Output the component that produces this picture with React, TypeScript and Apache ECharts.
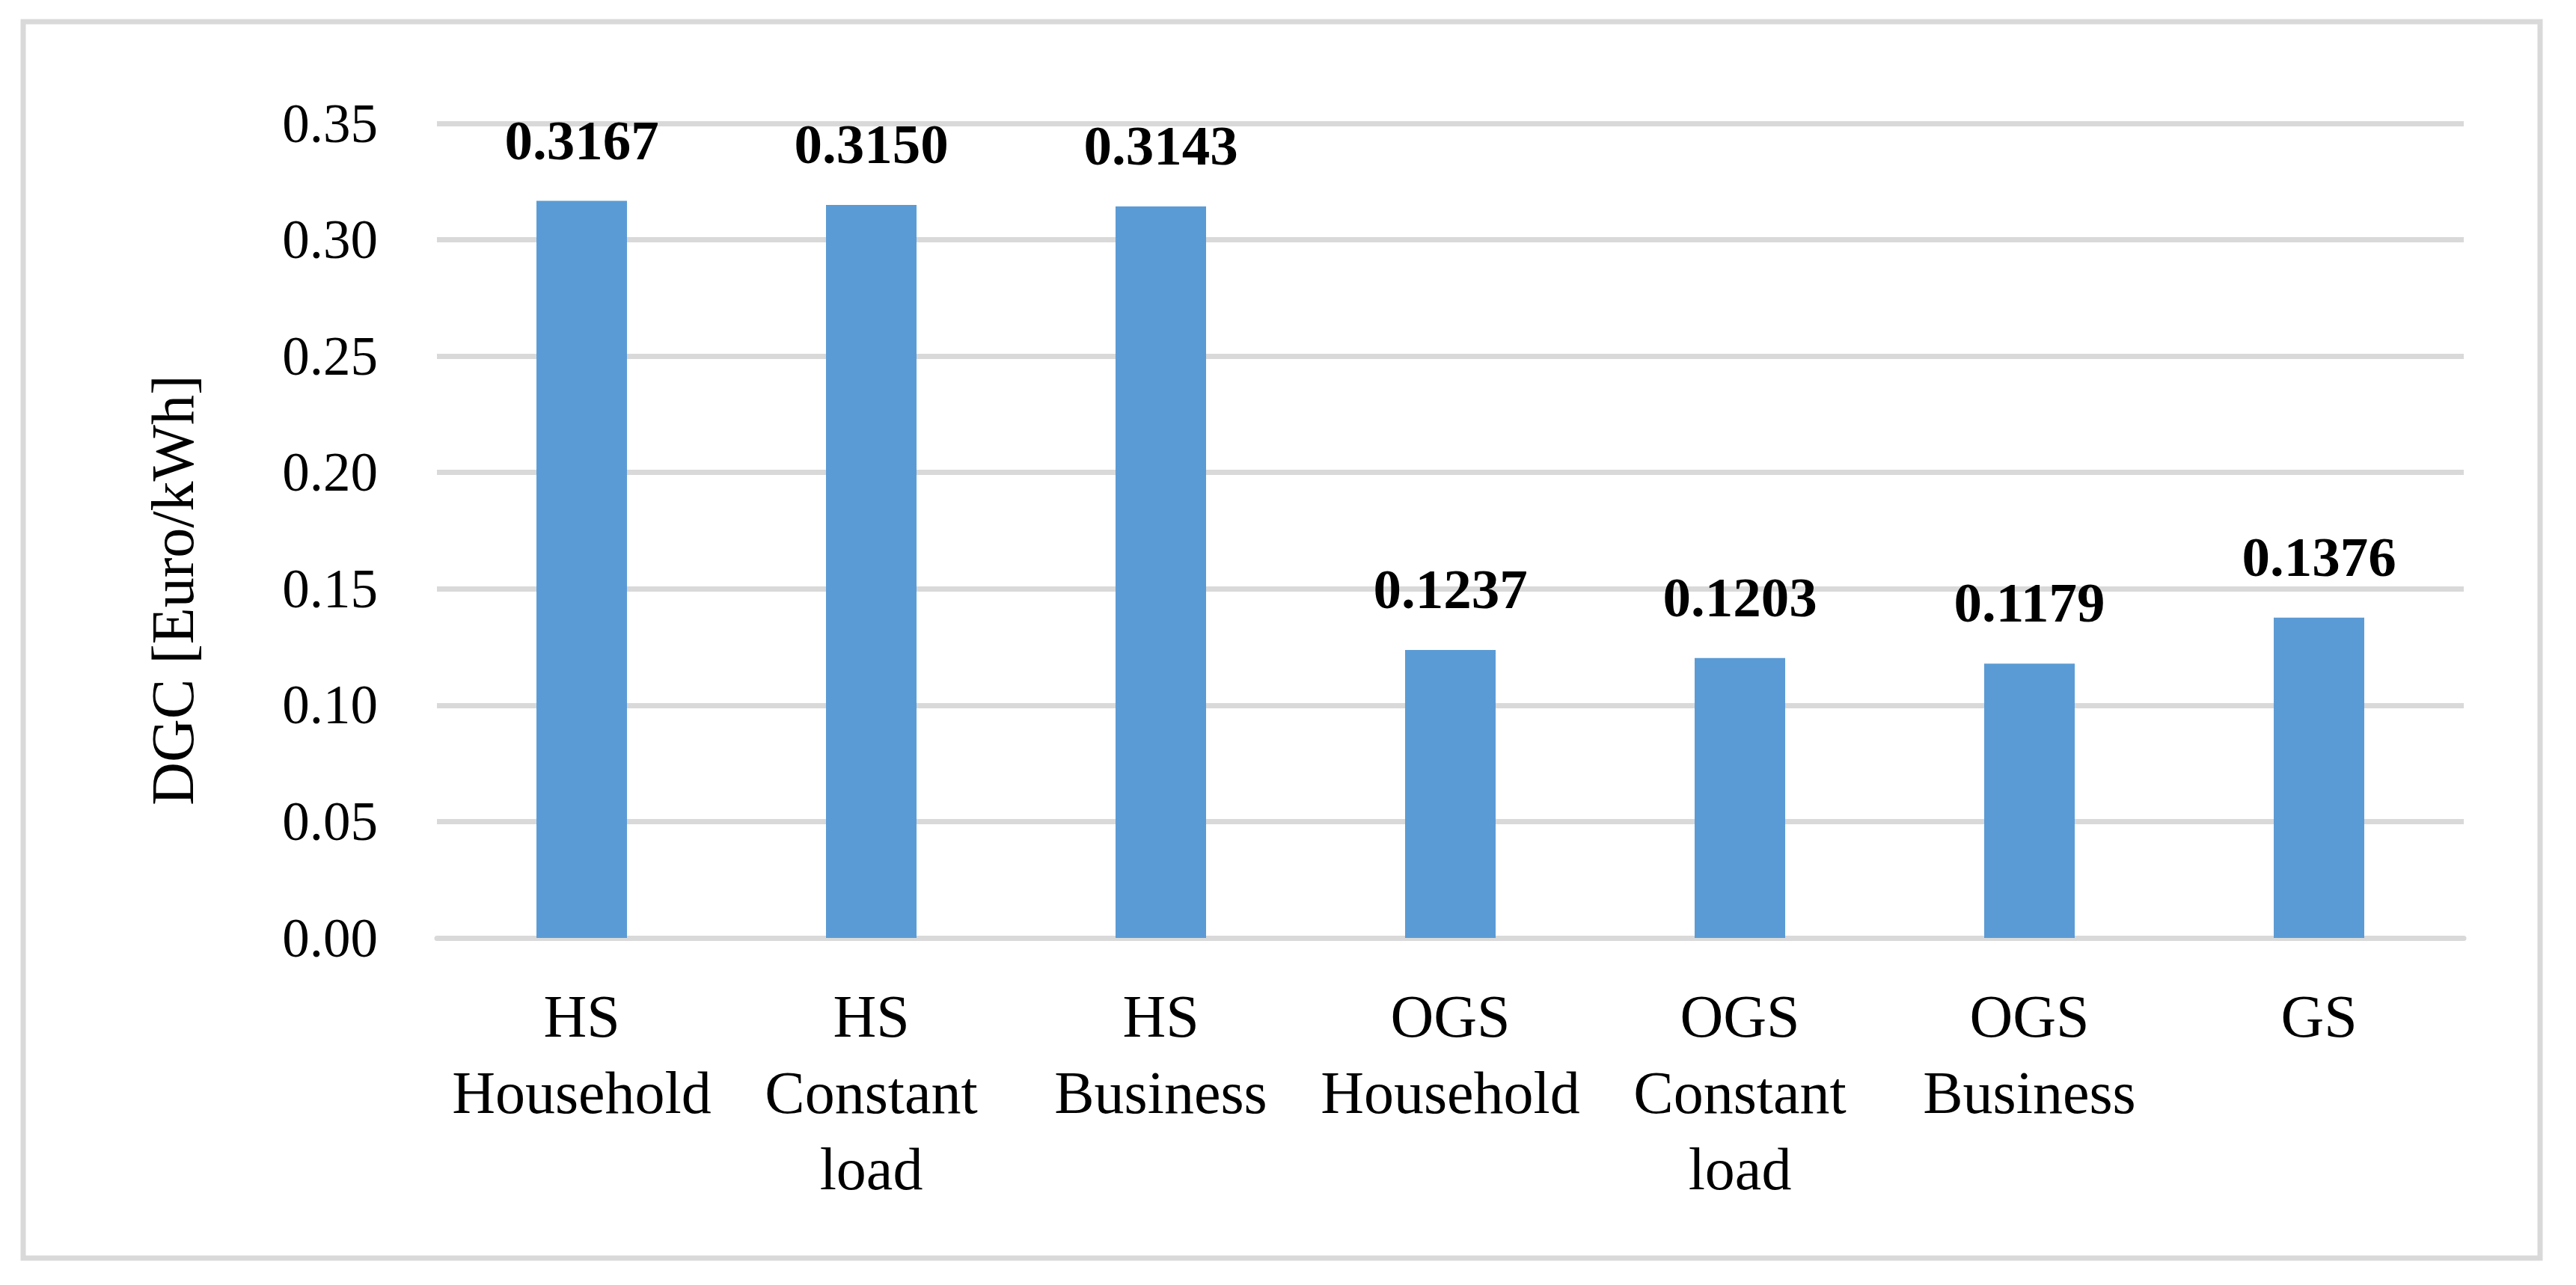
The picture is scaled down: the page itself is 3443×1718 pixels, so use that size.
import React, { useEffect, useRef } from "react";
import * as echarts from "echarts";

const categories = [
  "HS Household",
  "HS Constant load",
  "HS Business",
  "OGS Household",
  "OGS Constant load",
  "OGS Business",
  "GS",
];
const dgcValues = [0.3167, 0.315, 0.3143, 0.1237, 0.1203, 0.1179, 0.1376];
const yTicks = { min: 0, max: 0.35, interval: 0.05 };
const yAxisTitle = "DGC [Euro/kWh]";

const W = 3443;
const H = 1718;
const FONT = "'Liberation Serif', 'Times New Roman', serif";

export default function App() {
  const ref = useRef<HTMLDivElement>(null);
  useEffect(() => {
    document.body.style.margin = "0";
    if (!ref.current) return;
    const chart = echarts.init(ref.current, null, { renderer: "svg" });
    chart.setOption({
      animation: false,
      backgroundColor: "#ffffff",
      textStyle: { fontFamily: FONT },
      grid: { left: 584, right: 150, top: 165, bottom: 464, containLabel: false },
      xAxis: {
        type: "category",
        data: categories,
        axisLine: { show: true, lineStyle: { color: "#d9d9d9", width: 7 } },
        axisTick: { show: false },
        axisLabel: {
          interval: 0,
          margin: 54,
          fontSize: 80,
          lineHeight: 102,
          color: "#000000",
          fontFamily: FONT,
          formatter: (v: string) => v.split(" ").join("\n"),
        },
      },
      yAxis: {
        type: "value",
        min: yTicks.min,
        max: yTicks.max,
        interval: yTicks.interval,
        axisLine: { show: false },
        axisTick: { show: false },
        splitLine: { show: true, lineStyle: { color: "#d9d9d9", width: 7 } },
        axisLabel: {
          margin: 79,
          fontSize: 73,
          color: "#000000",
          fontFamily: FONT,
          formatter: (v: number) => v.toFixed(2),
        },
      },
      graphic: [
        {
          type: "rect",
          shape: { x: 31, y: 29, width: 3364, height: 1653 },
          style: { fill: "none", stroke: "#d9d9d9", lineWidth: 7 },
          silent: true,
          z: -1,
        },
        {
          type: "text",
          x: 231,
          y: 789,
          rotation: Math.PI / 2,
          style: {
            text: yAxisTitle,
            fontSize: 80,
            fontFamily: FONT,
            fill: "#000000",
            align: "center",
            verticalAlign: "middle",
          },
        },
      ],
      series: [
        {
          type: "bar",
          data: dgcValues,
          barWidth: 121,
          itemStyle: { color: "#5b9bd5" },
          label: {
            show: true,
            position: "top",
            distance: 44,
            fontSize: 75,
            fontWeight: "bold",
            color: "#000000",
            fontFamily: FONT,
            formatter: (p: any) => p.value.toFixed(4),
          },
        },
      ],
    });
    return () => chart.dispose();
  }, []);
  return <div ref={ref} style={{ width: W, height: H }} />;
}
